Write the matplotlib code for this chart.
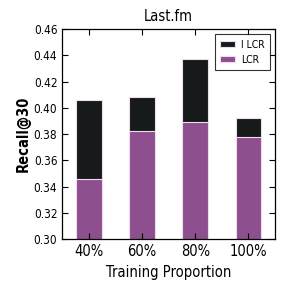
import matplotlib
matplotlib.use('Agg')
import matplotlib.pyplot as plt
from matplotlib import font_manager
import numpy as np

# values
proportions = ['40%', '60%', '80%', '100%']
ilcr = [0.406, 0.408, 0.437, 0.392]
lcr = [0.346, 0.382, 0.389, 0.378]

names = set(f.name for f in font_manager.fontManager.ttflist)
if 'DejaVu Sans Condensed' in names:
    plt.rcParams['font.family'] = ['DejaVu Sans Condensed', 'DejaVu Sans']
plt.rcParams['font.stretch'] = 'condensed'

fig = plt.figure(figsize=(3.06, 3.00), dpi=100)
ax = fig.add_axes([0.203, 0.203, 0.696, 0.700])

x = np.arange(len(proportions)) + 0.5
ax.bar(x, ilcr, width=0.48, color='#161a1a', edgecolor='#f0dcef', linewidth=0.8, label='I LCR')
ax.bar(x, lcr, width=0.48, color='#8e4f8e', edgecolor='#f0dcef', linewidth=0.8, label='LCR')

ax.set_xlim(0, 4)
ax.set_ylim(0.30, 0.46)
yt = np.arange(0.30, 0.461, 0.02)
ax.set_yticks(yt)
ax.set_yticklabels(['%.2f' % v for v in yt], fontsize=8.5)
ax.set_xticks(x)
ax.set_xticklabels(proportions, fontsize=10.5)
ax.tick_params(direction='in', top=True, right=True, length=4, width=0.8)

ax.set_title('Last.fm', fontsize=10.5)
ax.set_xlabel('Training Proportion', fontsize=10.5)
ax.set_ylabel('Recall@30', fontsize=10.5, fontweight='semibold', labelpad=2)

leg = ax.legend(loc='upper right', fontsize=7.5, fancybox=False, handlelength=1.4,
                handleheight=0.6, handletextpad=0.6, borderpad=0.5, labelspacing=0.5)
leg.get_frame().set_edgecolor('black')
leg.get_frame().set_linewidth(0.8)

for s in ax.spines.values():
    s.set_linewidth(0.9)

fig.savefig('out.png', dpi=100)
